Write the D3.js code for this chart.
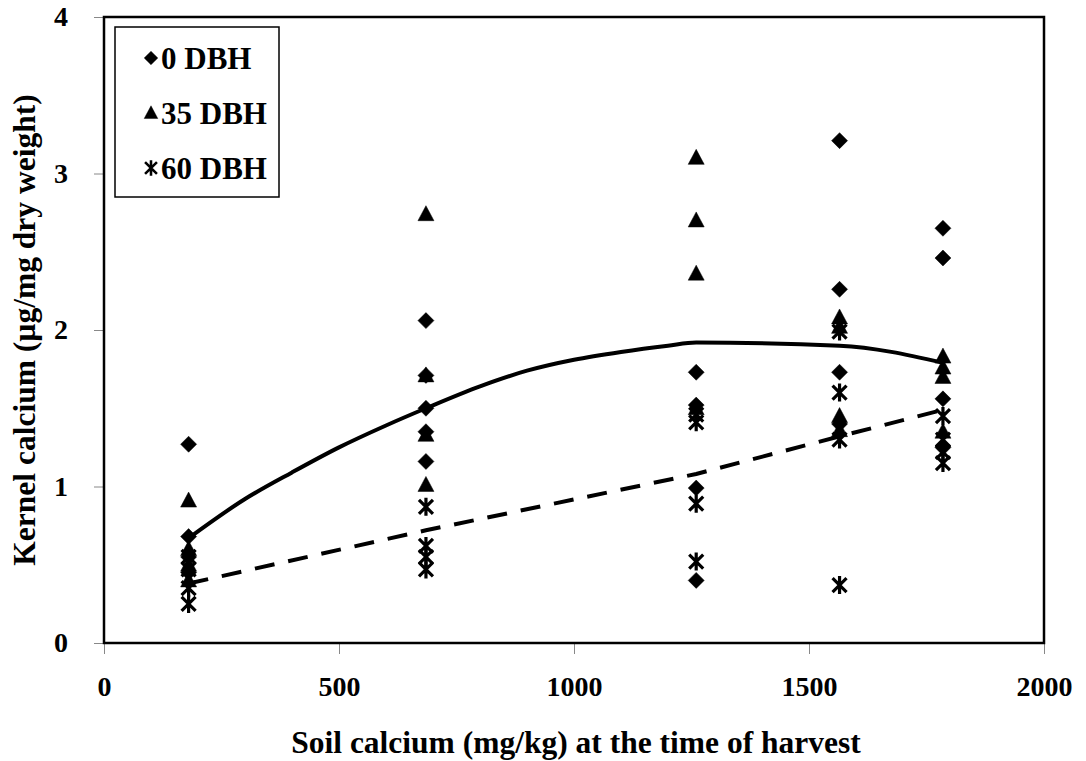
<!DOCTYPE html>
<html>
<head>
<meta charset="utf-8">
<script src="https://cdn.jsdelivr.net/npm/d3@7"></script>
<style>
  html, body { margin: 0; padding: 0; background: #fff; }
  svg text { font-family: "Liberation Serif", "Times New Roman", serif; font-weight: bold; fill: #000; }
</style>
</head>
<body>
<div id="chart"></div>
<script>
// ---- Data ----
const soilCa = [180, 685, 1260, 1565, 1785];

// kernel calcium per soil-Ca group
const dbh0 = [
  [1.27, 0.68, 0.55, 0.45],
  [2.06, 1.71, 1.50, 1.35, 1.16],
  [1.73, 1.52, 0.99, 0.40],
  [3.21, 2.26, 1.73, 1.40],
  [2.65, 2.46, 1.56, 1.25]
];
const dbh35 = [
  [0.91, 0.60, 0.50, 0.40],
  [2.74, 1.71, 1.33, 1.01],
  [3.10, 2.70, 2.36, 1.50],
  [2.08, 2.02, 1.45, 1.36],
  [1.83, 1.76, 1.70, 1.35]
];
const dbh60 = [
  [0.55, 0.47, 0.35, 0.25],
  [0.87, 0.62, 0.55, 0.47],
  [1.46, 1.41, 0.89, 0.52],
  [1.99, 1.60, 1.30, 0.37],
  [1.45, 1.30, 1.22, 1.15]
];

// fitted trend lines
const solidX = [180, 300, 400, 500, 600, 685, 800, 900, 1000, 1100, 1200, 1260, 1565, 1785];
const solidY = [0.67, 0.92, 1.09, 1.25, 1.39, 1.50, 1.64, 1.74, 1.81, 1.86, 1.90, 1.92, 1.90, 1.79];
const dashX = [180, 685, 1260, 1565, 1785];
const dashY = [0.38, 0.72, 1.08, 1.32, 1.49];

const xTicks = [0, 500, 1000, 1500, 2000];
const yTicks = [0, 1, 2, 3, 4];
const legendLabels = ['0 DBH', '35 DBH', '60 DBH'];

// ---- Layout ----
const W = 1086, H = 761;
const margin = { top: 17, right: 42, bottom: 118, left: 104 };
const innerW = W - margin.left - margin.right;
const innerH = H - margin.top - margin.bottom;

const svg = d3.select('#chart').append('svg').attr('width', W).attr('height', H);
const g = svg.append('g').attr('transform', `translate(${margin.left},${margin.top})`);

const x = d3.scaleLinear().domain([0, 2000]).range([0, innerW]);
const y = d3.scaleLinear().domain([0, 4]).range([innerH, 0]);

// ---- Axes ----
const xAxis = g.append('g')
  .attr('transform', `translate(0,${innerH})`)
  .call(d3.axisBottom(x).tickValues(xTicks).tickSize(11).tickPadding(22).tickFormat(d3.format('d')));
xAxis.select('.domain').attr('stroke', '#888');
xAxis.selectAll('.tick line').attr('stroke', '#888');
xAxis.selectAll('text').attr('font-size', '28px');

const yAxis = g.append('g')
  .call(d3.axisLeft(y).tickValues(yTicks).tickSize(10).tickPadding(26).tickFormat(d3.format('d')));
yAxis.select('.domain').attr('stroke', '#888');
yAxis.selectAll('.tick line').attr('stroke', '#888');
yAxis.selectAll('text').attr('font-size', '28px');

// plot frame
g.append('rect')
  .attr('x', 0).attr('y', 0).attr('width', innerW).attr('height', innerH)
  .attr('fill', 'none').attr('stroke', '#000').attr('stroke-width', 2.5);

// ---- Trend lines ----
const line = d3.line().x(d => x(d[0])).y(d => y(d[1])).curve(d3.curveMonotoneX);

g.append('path')
  .datum(solidX.map((v, i) => [v, solidY[i]]))
  .attr('d', line)
  .attr('fill', 'none').attr('stroke', '#000').attr('stroke-width', 4);

g.append('path')
  .datum(dashX.map((v, i) => [v, dashY[i]]))
  .attr('d', d3.line().x(d => x(d[0])).y(d => y(d[1])))
  .attr('fill', 'none').attr('stroke', '#000').attr('stroke-width', 4)
  .attr('stroke-dasharray', '20,14');

// ---- Markers ----
const diamond = 'M0,-8L8,0L0,8L-8,0Z';
const triangle = 'M0,-8.5L8,6.5L-8,6.5Z';
const star = 'M-7,-7L7,7M-7,7L7,-7M0,-9L0,9';

function flatten(groups) {
  const out = [];
  groups.forEach((vals, i) => vals.forEach(v => out.push([soilCa[i], v])));
  return out;
}

function drawMarks(data, path, isStroke) {
  g.append('g').selectAll('path')
    .data(data).join('path')
    .attr('transform', d => `translate(${x(d[0])},${y(d[1])})`)
    .attr('d', path)
    .attr('fill', isStroke ? 'none' : '#000')
    .attr('stroke', '#000')
    .attr('stroke-width', isStroke ? 3.2 : 0.5);
}

drawMarks(flatten(dbh0), diamond, false);
drawMarks(flatten(dbh35), triangle, false);
drawMarks(flatten(dbh60), star, true);

// ---- Legend ----
const legend = svg.append('g').attr('transform', 'translate(115,27)');
legend.append('rect')
  .attr('width', 164).attr('height', 170)
  .attr('fill', '#fff').attr('stroke', '#000').attr('stroke-width', 1.5);

const shapes = [diamond, triangle, star];
legendLabels.forEach((lab, i) => {
  const cy = 31 + i * 55;
  legend.append('path')
    .attr('transform', `translate(36,${cy}) scale(0.85)`)
    .attr('d', shapes[i])
    .attr('fill', i === 2 ? 'none' : '#000')
    .attr('stroke', '#000')
    .attr('stroke-width', i === 2 ? 3 : 0.5);
  legend.append('text')
    .attr('x', 46).attr('y', cy)
    .attr('dy', '0.35em')
    .attr('font-size', '31px')
    .text(lab);
});

// ---- Axis titles ----
svg.append('text')
  .attr('x', margin.left + innerW / 2 + 2).attr('y', 753)
  .attr('text-anchor', 'middle')
  .attr('font-size', '31.5px')
  .text('Soil calcium (mg/kg) at the time of harvest');

svg.append('text')
  .attr('transform', `translate(35,${margin.top + innerH / 2}) rotate(-90)`)
  .attr('text-anchor', 'middle')
  .attr('font-size', '31.5px')
  .text('Kernel calcium (µg/mg dry weight)');
</script>
</body>
</html>
